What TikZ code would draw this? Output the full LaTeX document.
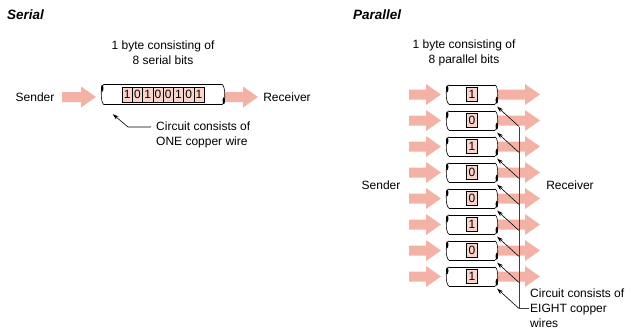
\documentclass[tikz,border=0pt]{standalone}
\usepackage{fontspec}
\setmainfont{Liberation Sans}
\usetikzlibrary{calc,arrows.meta}

\definecolor{arrowpink}{RGB}{243,178,165}
\definecolor{bitpink}{RGB}{250,212,202}

% the two cut ends and the sides of one wire
\newcommand\wireends[1]{%
  \draw[line width=0.6pt] (#1.north west) -- (#1.north east) (#1.south west) -- (#1.south east);
  \draw[line width=0.6pt] (#1.north west) .. controls +(-3,3) and +(0,-4) .. ($(#1.west)+(-2.5,0)$)
    .. controls +(0,4) and +(-2,-2) .. (#1.south west);
  \draw[line width=0.6pt] (#1.north east) .. controls +(2,2) and +(0,-4) .. ($(#1.east)+(2.5,0)$)
    .. controls +(0,4) and +(3,-3) .. (#1.south east);
  \fill ($(#1.north west)+(-1.6,4)$) ellipse (1.2 and 3.5);
  \fill ($(#1.south east)+(1.6,-4)$) ellipse (1.2 and 3.5);
}

\begin{document}
\begin{tikzpicture}[x=1pt,y=-1pt,
  wire/.style={minimum width=#1,minimum height=20,inner sep=0pt},
  bit/.style={draw,line width=0.5pt,fill=bitpink,minimum width=10.25,minimum height=15,inner sep=0pt,font=\fontsize{12}{12}\selectfont},
  lbl/.style={align=center,inner sep=1pt,font=\fontsize{12}{15}\selectfont},
  head/.style={inner sep=1pt,anchor=west,font=\fontsize{13.5}{15}\selectfont\bfseries\itshape},
  note/.style={-{Stealth[length=6pt,width=4pt]},line width=0.6pt},
  pics/fatarrow/.style={code={
    \fill[arrowpink] (0,-5) -- (#1-15,-5) -- (#1-15,-10.5) -- (#1,0) -- (#1-15,10.5) -- (#1-15,5) -- (0,5) -- cycle;}}
  ]
\useasboundingbox (0,0) rectangle (631,330);

% serial
\node[head] (sh) at (6,15) {Serial};
\node[lbl] (sbyte) at (163,52.5) {1 byte consisting of\\8 serial bits};
\node[lbl] (ssend) at (35,97) {Sender};
\node[lbl] (srecv) at (287,97) {Receiver};
\pic at (62,97) {fatarrow=34};
\pic at (225,97) {fatarrow=33};
\node[wire=118] (sw) at (163,94.5) {};
\wireends{sw}
\foreach \b [count=\i] in {1,0,1,0,0,1,0,1}
  \node[bit] (sb\i) at (116.875+10.25*\i,94.5) {\b};
\node[lbl,align=left,anchor=west] (snote) at (155,135) {Circuit consists of\\ONE copper wire};
\coordinate (sc) at (151,127);
\coordinate (stip) at ($(sw.south west)+(9,9.5)$);
\draw[note] (sc) -- ++(-23,0) -- (stip);

% parallel
\node[head] (ph) at (352,15) {Parallel};
\node[lbl] (pbyte) at (464,52.5) {1 byte consisting of\\8 parallel bits};
\node[lbl] (psend) at (381,185) {Sender};
\node[lbl] (precv) at (570,185) {Receiver};
\foreach \i in {1,...,8} {
  \pic at (409,68.5+26*\i) {fatarrow=32};
  \pic at (498,68.5+26*\i) {fatarrow=42};
}
\foreach \b [count=\i] in {1,0,1,0,0,1,0,1} {
  \pgfmathsetmacro\yy{68.5+26*\i}
  \node[wire=46,minimum height=19] (pw\i) at (472,\yy) {};
  \wireends{pw\i}
  \node[bit,minimum width=11,minimum height=14] (pb\i) at (pw\i) {\b};
  \coordinate (pv\i) at (519,\yy+32);
  \coordinate (ptip\i) at ($(pw\i.south east)+(2,2.5)$);
  \draw[note] (pv\i) -- (ptip\i);
}
\node[lbl,align=left,anchor=west] (pnote) at (529,308) {Circuit consists of\\EIGHT copper\\wires};
\draw[line width=0.6pt,black!75] (pv1) |- (pnote.west);
\end{tikzpicture}
\end{document}
